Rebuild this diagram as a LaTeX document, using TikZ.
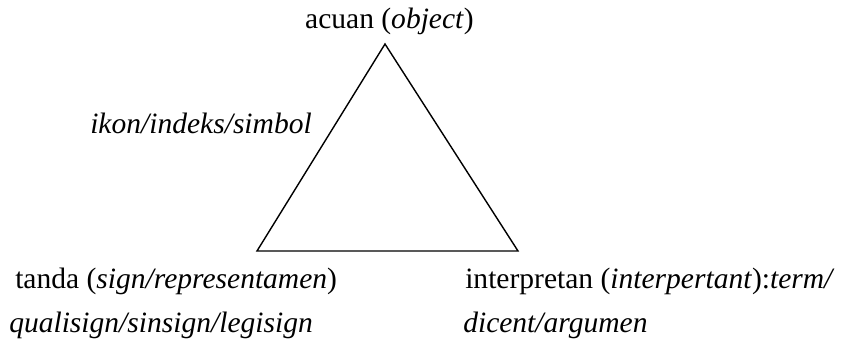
\documentclass[tikz,border=0pt]{standalone}
\usepackage{fontspec}
\setmainfont{Liberation Serif}
\begin{document}
\begin{tikzpicture}[x=0.025cm, y=-0.025cm,
        teks/.style={anchor=base west, inner sep=0pt, font=\fontsize{21}{25}\selectfont},
        sisi/.style={line width=1pt, line join=miter}
    ]
        \useasboundingbox (0,0) rectangle (843,350);
        % sudut segitiga
        \coordinate (puncak) at (385,44);
        \coordinate (kiri) at (257,251);
        \coordinate (kanan) at (518,251);
        \draw[sisi] (puncak) -- (kiri) -- (kanan) -- cycle;
        % label
        \node[teks, anchor=base] (acuan) at (389.5,28) {acuan (\textit{object})};
        \node[teks] (ikon) at (90,133) {\textit{ikon/indeks/simbol}};
        \node[teks] (tanda) at (15,288) {tanda (\textit{sign/representamen})};
        \node[teks] (qualisign) at (9,332) {\textit{qualisign/sinsign/legisign}};
        \node[teks] (interpretan) at (465,288) {interpretan (\textit{interpertant}):\textit{term/}};
        \node[teks] (dicent) at (463,332) {\textit{dicent/argumen}};
    \end{tikzpicture}
\end{document}
